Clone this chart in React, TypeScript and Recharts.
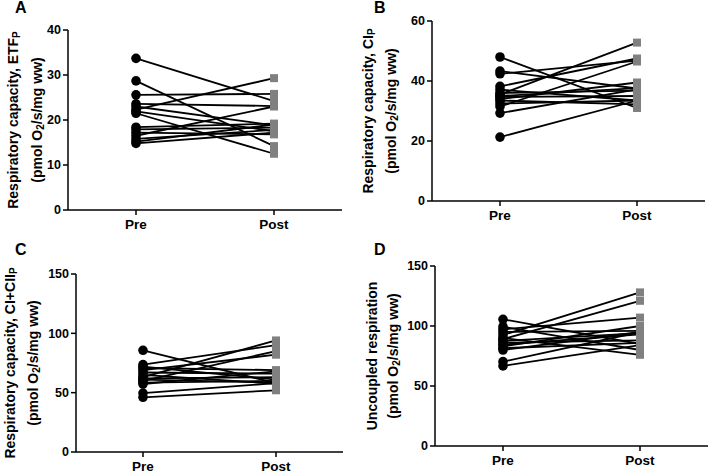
import { LineChart, Line, XAxis, YAxis } from "recharts";

const phases = ["Pre", "Post"];

// panel A: ETF_P
const etfPre = [33.7, 28.7, 25.6, 23.6, 23.0, 22.3, 21.9, 21.5, 18.4, 17.9, 17.2, 16.5, 15.8, 15.2, 14.8];
const etfPost = [24.2, 14.2, 25.8, 23.1, 18.8, 29.3, 17.5, 12.5, 19.2, 18.3, 16.8, 23.0, 17.8, 19.0, 17.2];

// panel B: CI_P
const ciPre = [48.0, 43.3, 42.4, 38.2, 37.1, 36.0, 35.5, 35.0, 34.7, 34.0, 33.5, 32.5, 31.5, 29.3, 21.3];
const ciPost = [31.0, 37.5, 46.8, 47.5, 33.5, 36.8, 52.8, 37.6, 35.0, 39.5, 32.2, 33.5, 46.5, 37.2, 33.5];

// panel C: CI+CII_P
const ciiPre = [85.7, 73.6, 72.0, 70.8, 69.0, 67.0, 65.0, 63.0, 62.0, 61.0, 60.0, 58.5, 57.3, 49.7, 46.1];
const ciiPost = [58.0, 90.0, 61.0, 69.0, 82.0, 66.0, 57.5, 94.0, 63.0, 58.5, 85.0, 60.0, 68.0, 58.0, 52.0];

// panel D: uncoupled
const uncPre = [105.6, 99.4, 97.2, 95.0, 92.5, 90.0, 89.0, 87.5, 86.0, 84.5, 83.0, 81.5, 80.0, 70.3, 66.7];
const uncPost = [85.0, 80.0, 107.0, 96.0, 128.0, 76.0, 121.0, 94.0, 88.0, 93.0, 100.0, 86.0, 95.0, 95.0, 84.0];

const ticksA = [0, 10, 20, 30, 40];
const ticksB = [0, 20, 40, 60];
const ticksCD = [0, 50, 100, 150];

const FONT = "'Liberation Sans', Arial, sans-serif";

function buildRows(pre: number[], post: number[]) {
  const preRow: Record<string, any> = { phase: phases[0] };
  const postRow: Record<string, any> = { phase: phases[1] };
  pre.forEach((v, i) => {
    preRow[`s${i}`] = v;
    postRow[`s${i}`] = post[i];
  });
  return [preRow, postRow];
}

const PairDot = (props: any) => {
  const { cx, cy, index } = props;
  if (cx == null || cy == null) return <g />;
  if (index === 0) return <circle cx={cx} cy={cy} r={4.8} fill="#000" />;
  return <rect x={cx - 4} y={cy - 4} width={8} height={8} fill="#808080" />;
};

const AxisTitle = ({ viewBox, line1, sub1, x1, x2 }: any) => {
  const cy = viewBox.y + viewBox.height / 2;
  const style = { fontFamily: FONT, fontWeight: "bold" as const, fontSize: 14, fill: "#000" };
  return (
    <g>
      <text transform={`translate(${x1},${cy}) rotate(-90)`} textAnchor="middle" dominantBaseline="central" style={style}>
        {line1}
        {sub1 && (
          <tspan fontSize={10} dy={3}>
            {sub1}
          </tspan>
        )}
      </text>
      <text transform={`translate(${x2},${cy}) rotate(-90)`} textAnchor="middle" dominantBaseline="central" style={style}>
        (pmol O
        <tspan fontSize={10} dy={3}>
          2
        </tspan>
        <tspan dy={-3}>/s/mg ww)</tspan>
      </text>
    </g>
  );
};

interface PanelProps {
  letter: string;
  left: number;
  top: number;
  height: number;
  margin: { top: number; right: number; bottom: number; left: number };
  yWidth: number;
  xHeight: number;
  pad: number;
  max: number;
  ticks: number[];
  pre: number[];
  post: number[];
  line1: string;
  sub1?: string;
  x1: number;
  x2: number;
}

function Panel(p: PanelProps) {
  const rows = buildRows(p.pre, p.post);
  const keys = p.pre.map((_, i) => `s${i}`);
  const tick = { fill: "#000", fontSize: 12.5, fontWeight: "bold", fontFamily: FONT };
  return (
    <div style={{ position: "absolute", left: p.left, top: p.top }}>
      <LineChart width={354} height={p.height} data={rows} margin={p.margin} style={{ overflow: "visible" }}>
        <XAxis
          dataKey="phase"
          height={p.xHeight}
          padding={{ left: p.pad, right: p.pad }}
          axisLine={{ stroke: "#000", strokeWidth: 1.5 }}
          tickLine={{ stroke: "#000", strokeWidth: 1.5 }}
          tickSize={5}
          tickMargin={4}
          tick={{ ...tick, fontSize: 13.5 }}
        />
        <YAxis
          width={p.yWidth}
          domain={[0, p.max]}
          ticks={p.ticks}
          axisLine={{ stroke: "#000", strokeWidth: 1.5 }}
          tickLine={{ stroke: "#000", strokeWidth: 1.5 }}
          tickSize={5}
          tick={tick}
          label={<AxisTitle line1={p.line1} sub1={p.sub1} x1={p.x1} x2={p.x2} />}
        />
        {keys.map((k) => (
          <Line key={k} dataKey={k} stroke="#000" strokeWidth={1.8} dot={false} isAnimationActive={false} />
        ))}
        {keys.map((k) => (
          <Line key={`d${k}`} dataKey={k} stroke="none" dot={PairDot} activeDot={false} isAnimationActive={false} />
        ))}
      </LineChart>
      <div
        style={{
          position: "absolute",
          left: p.letter === "A" || p.letter === "C" ? 15 : 19,
          top: p.letter === "A" || p.letter === "B" ? -1 : 6,
          fontFamily: FONT,
          fontWeight: "bold",
          fontSize: 16,
        }}
      >
        {p.letter}
      </div>
    </div>
  );
}

export default function App() {
  return (
    <div style={{ position: "absolute", left: 0, top: 0, width: 709, height: 472, overflow: "hidden", background: "#fff" }}>
      <Panel
        letter="A"
        left={0}
        top={0}
        height={236}
        margin={{ top: 30, right: 12, bottom: 0, left: 0 }}
        yWidth={68}
        xHeight={26}
        pad={68}
        max={40}
        ticks={ticksA}
        pre={etfPre}
        post={etfPost}
        line1="Respiratory capacity, ETF"
        sub1="P"
        x1={13}
        x2={37}
      />
      <Panel
        letter="B"
        left={355}
        top={0}
        height={236}
        margin={{ top: 21, right: 4, bottom: 0, left: 0 }}
        yWidth={77}
        xHeight={35}
        pad={68}
        max={60}
        ticks={ticksB}
        pre={ciPre}
        post={ciPost}
        line1="Respiratory capacity, CI"
        sub1="P"
        x1={13}
        x2={36}
      />
      <Panel
        letter="C"
        left={0}
        top={235}
        height={245}
        margin={{ top: 39, right: 11, bottom: 0, left: 0 }}
        yWidth={76}
        xHeight={28}
        pad={67}
        max={150}
        ticks={ticksCD}
        pre={ciiPre}
        post={ciiPost}
        line1="Respiratory capacity, CI+CII"
        sub1="P"
        x1={10}
        x2={33}
      />
      <Panel
        letter="D"
        left={355}
        top={235}
        height={245}
        margin={{ top: 31, right: 1, bottom: 0, left: 0 }}
        yWidth={80}
        xHeight={34}
        pad={68}
        max={150}
        ticks={ticksCD}
        pre={uncPre}
        post={uncPost}
        line1="Uncoupled respiration"
        x1={17}
        x2={38}
      />
    </div>
  );
}
